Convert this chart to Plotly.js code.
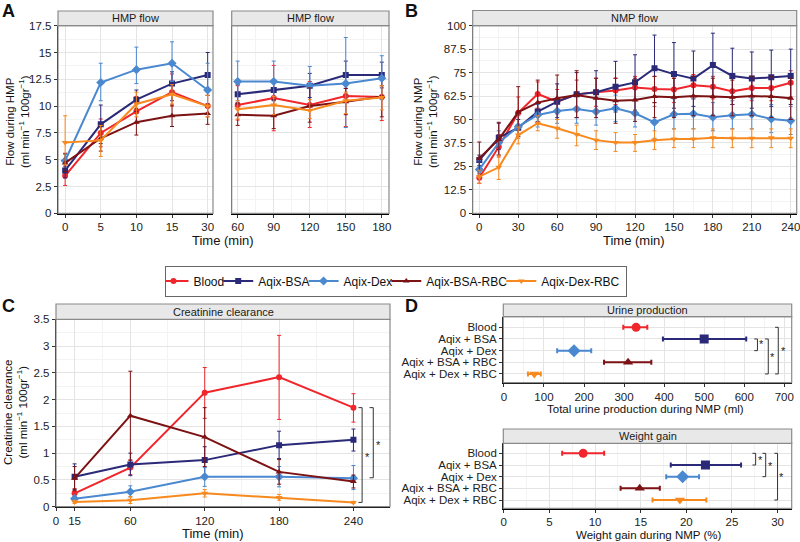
<!DOCTYPE html>
<html><head><meta charset="utf-8">
<script src="https://cdn.plot.ly/plotly-3.0.1.min.js"></script>
<style>html,body{margin:0;padding:0;background:#fff}#chart{width:800px;height:542px}</style>
</head><body><div id="chart"></div>
<script>
// ---------- shared ----------
const groups = ['Blood', 'Aqix-BSA', 'Aqix-Dex', 'Aqix-BSA-RBC', 'Aqix-Dex-RBC'];
const groupLabels = ['Blood', 'Aqix + BSA', 'Aqix + Dex', 'Aqix + BSA + RBC', 'Aqix + Dex + RBC'];
const colors = ['#f0262c', '#2a2a78', '#4a88d0', '#7c1214', '#f7891e'];
const symbols = ['circle', 'square', 'diamond', 'triangle-up', 'triangle-down'];

// ---------- Panel A: HMP flow, early (0-30 min) ----------
const hmpEarlyTimes = ['0', '5', '10', '15', '30'];
const hmpEarlyMean = [
  [3.5, 7.5, 9.5, 11.3, 10.0],
  [4.0, 8.3, 10.6, 12.1, 12.9],
  [4.9, 12.2, 13.4, 14.0, 11.5],
  [4.7, 7.0, 8.5, 9.1, 9.3],
  [6.6, 6.8, 10.2, 11.1, 10.0]
];
const hmpEarlyLo = [
  [2.6, 6.2, 8.4, 10.0, 9.0],
  [3.3, 6.5, 9.5, 10.5, 11.0],
  [4.3, 10.5, 12.1, 12.3, 10.0],
  [3.9, 5.8, 7.3, 8.1, 8.3],
  [4.5, 5.3, 9.0, 10.2, 9.0]
];
const hmpEarlyHi = [
  [4.4, 8.8, 10.9, 13.0, 11.0],
  [4.8, 10.1, 11.5, 13.2, 15.0],
  [5.5, 14.0, 15.5, 16.0, 14.0],
  [5.6, 8.2, 9.8, 10.1, 10.2],
  [9.1, 8.2, 11.3, 12.0, 11.0]
];

// ---------- Panel A: HMP flow, late (60-180 min) ----------
const hmpLateTimes = [60, 90, 120, 150, 180];
const hmpLateMean = [
  [10.1, 10.75, 10.1, 10.95, 10.85],
  [11.1, 11.5, 11.9, 12.9, 12.9],
  [12.3, 12.3, 11.9, 12.1, 12.6],
  [9.2, 9.1, 10.0, 10.4, 10.9],
  [9.7, 10.1, 9.6, 10.5, 10.8]
];
const hmpLateLo = [
  [8.7, 7.7, 8.0, 8.1, 8.65],
  [10.2, 10.5, 10.8, 11.65, 11.7],
  [10.5, 10.6, 10.0, 8.0, 10.6],
  [8.2, 7.9, 8.5, 9.2, 9.0],
  [8.8, 9.2, 8.85, 9.3, 9.65]
];
const hmpLateHi = [
  [11.9, 13.8, 12.3, 11.9, 13.1],
  [12.0, 12.4, 13.05, 14.2, 14.1],
  [14.2, 14.2, 13.7, 16.4, 14.7],
  [10.3, 10.6, 11.7, 11.65, 11.9],
  [10.5, 10.9, 10.6, 11.3, 11.9]
];

// ---------- Panel B: NMP flow ----------
const nmpTimes = [0, 15, 30, 45, 60, 75, 90, 105, 120, 135, 150, 165, 180, 195, 210, 225, 240];
const nmpMean = [
  [19, 35.5, 53.6, 63.6, 59.5, 63.4, 64.5, 65.4, 67.1, 66.3, 66, 68.2, 67.5, 65, 66.8, 66.8, 69.6],
  [28.4, 40.3, 45.6, 54.2, 59.5, 63.4, 64.5, 67.5, 69.8, 77.3, 74.2, 71.8, 79, 73.2, 71.8, 72.5, 73.2],
  [23.4, 37.7, 46.2, 52.4, 54.5, 55.6, 54.2, 56, 53.3, 48.5, 52.8, 53, 51.2, 52.2, 52.8, 50.3, 49.4],
  [29.3, 39.4, 54, 59, 61.3, 63, 61.3, 60, 60.4, 62.2, 61.8, 62.5, 62.2, 61.8, 62.5, 62.2, 61.3],
  [19.5, 24.5, 41.7, 48, 45.3, 42, 39, 37.7, 37.7, 39, 39.6, 39.6, 40.3, 40, 40, 40.3, 40]
];
const nmpLo = [
  [16, 30, 46, 56, 53, 56, 57, 58, 60, 59, 59, 61, 61, 58, 60, 60, 62],
  [25.5, 34, 41, 49, 51, 51, 55, 54, 55, 59, 56, 57, 62, 58, 56, 57, 58],
  [19, 31, 40, 46, 48, 48, 47, 49, 46, 40, 45, 45, 44, 45, 45, 43, 42],
  [21, 31, 41, 48, 50, 51, 51, 48, 49, 51, 51, 52, 52, 52, 52, 51, 50],
  [16, 18, 37, 44, 40, 36, 34, 33, 33, 34, 35, 35, 35, 35, 35, 35, 35]
];
const nmpHi = [
  [22, 42, 62, 70, 66, 71, 72, 72, 73, 73, 72, 74, 73, 72, 73, 73, 76],
  [31, 48, 50, 59, 69, 75, 76, 81, 84.5, 95, 91, 86.5, 96, 88, 86, 87, 87.5],
  [28, 44, 52, 58, 61, 63, 62, 63, 61, 57, 61, 61, 59, 60, 61, 58, 57],
  [38, 48.5, 67.5, 71, 73.7, 76, 72, 72, 72, 73, 72, 73, 72, 71, 73, 73, 72],
  [23, 31, 46, 52, 50, 47, 44, 43, 42, 44, 45, 45, 45, 45, 45, 45, 45]
];

// ---------- Panel C: Creatinine clearance ----------
const ccTimes = [15, 60, 120, 180, 240];
const ccMean = [
  [0.25, 0.73, 2.13, 2.42, 1.85],
  [0.56, 0.79, 0.87, 1.15, 1.25],
  [0.15, 0.28, 0.56, 0.56, 0.53],
  [0.53, 1.70, 1.30, 0.65, 0.47],
  [0.09, 0.12, 0.25, 0.17, 0.08]
];
const ccLo = [
  [0.18, 0.60, 1.65, 1.63, 1.58],
  [0.32, 0.58, 0.60, 0.90, 1.04],
  [0.10, 0.18, 0.38, 0.37, 0.32],
  [0.30, 0.87, 0.75, 0.42, 0.35],
  [0.06, 0.06, 0.18, 0.12, 0.06]
];
const ccHi = [
  [0.34, 0.87, 2.60, 3.20, 2.11],
  [0.80, 1.00, 1.12, 1.41, 1.45],
  [0.20, 0.39, 0.73, 0.75, 0.77],
  [0.75, 2.53, 1.85, 0.88, 0.59],
  [0.12, 0.19, 0.32, 0.23, 0.10]
];

// ---------- Panel D: Urine production & weight gain ----------
const urineMean = [330, 500, 175, 310, 76];
const urineLo = [298, 397, 133, 250, 60];
const urineHi = [358, 605, 218, 368, 92];
const weightMean = [8.7, 22.1, 19.6, 14.9, 19.3];
const weightLo = [6.4, 18.3, 17.8, 12.8, 16.3];
const weightHi = [11.0, 26.0, 21.4, 17.1, 22.2];

// ---------- build traces ----------
const traces = [];
function addSeries(xs, mean, lo, hi, xa, ya, legend) {
  for (let g = 0; g < groups.length; g++) {
    traces.push({
      type: 'scatter', mode: 'lines+markers', x: xs, y: mean[g],
      name: groups[g], legendgroup: groups[g], showlegend: legend,
      xaxis: xa, yaxis: ya,
      line: {color: colors[g], width: 2},
      marker: {color: colors[g], symbol: symbols[g], size: g === 2 ? 7 : 6},
      error_y: {type: 'data', symmetric: false,
        array: hi[g].map((v, i) => v - mean[g][i]),
        arrayminus: mean[g].map((v, i) => v - lo[g][i]),
        color: colors[g], thickness: 1, width: 2}
    });
  }
}
addSeries(hmpEarlyTimes, hmpEarlyMean, hmpEarlyLo, hmpEarlyHi, 'x', 'y', false);
addSeries(hmpLateTimes, hmpLateMean, hmpLateLo, hmpLateHi, 'x2', 'y2', false);
addSeries(nmpTimes, nmpMean, nmpLo, nmpHi, 'x3', 'y3', true);
addSeries(ccTimes, ccMean, ccLo, ccHi, 'x4', 'y4', false);

const catPos = groupLabels.map((_, i) => i);
function addDot(vals, lo, hi, xa, ya) {
  for (let g = 0; g < groups.length; g++) {
    traces.push({
      type: 'scatter', mode: 'markers', x: [vals[g]], y: [catPos[g]],
      name: groups[g], legendgroup: groups[g], showlegend: false,
      xaxis: xa, yaxis: ya,
      marker: {color: colors[g], symbol: symbols[g], size: g === 2 ? 10 : 9},
      error_x: {type: 'data', symmetric: false,
        array: [hi[g] - vals[g]], arrayminus: [vals[g] - lo[g]],
        color: colors[g], thickness: 2, width: 2.5}
    });
  }
}
addDot(urineMean, urineLo, urineHi, 'x5', 'y5');
addDot(weightMean, weightLo, weightHi, 'x6', 'y6');

// ---------- layout ----------
const W = 800, H = 542;
const px = v => v / W, py = v => 1 - v / H;
const FAM = 'Liberation Sans, Arial, sans-serif';
const tickFont = {family: FAM, size: 11.5, color: '#222'};
function ax(extra) {
  return Object.assign({
    showline: true, linecolor: '#000', linewidth: 1.2,
    ticks: 'outside', ticklen: 3, tickcolor: '#333', tickwidth: 1,
    tickfont: tickFont, showgrid: true, gridcolor: '#e4e4e4', gridwidth: 1,
    zeroline: false, fixedrange: true, ticklabeloverflow: 'allow'
  }, extra);
}
const minor = (o) => Object.assign({showgrid: true, gridcolor: '#f3f3f3', ticklen: 0}, o);

const yA = [py(213.3), py(25.7)];
const layout = {
  width: W, height: H, margin: {l: 0, r: 0, t: 0, b: 0},
  paper_bgcolor: '#fff', plot_bgcolor: '#fff',
  font: {family: FAM, color: '#111'},
  showlegend: true,
  legend: {orientation: 'h', x: px(395.5), xanchor: 'center', y: py(265.5), yanchor: 'top',
    bordercolor: '#666', borderwidth: 1, font: {family: FAM, size: 12, color: '#111'},
    itemwidth: 30, indentation: -11, tracegroupgap: 0, bgcolor: '#fff'},
  xaxis: ax({domain: [px(58), px(213)], type: 'category', range: [-0.2, 4.15], anchor: 'y'}),
  yaxis: ax({domain: yA, range: [0, 17.5], dtick: 2.5, anchor: 'x', minor: minor({dtick: 1.25})}),
  xaxis2: ax({domain: [px(231.7), px(389)], range: [55, 186], tickvals: hmpLateTimes, anchor: 'y2',
    minor: minor({tickvals: [75, 105, 135, 165]})}),
  yaxis2: ax({domain: yA, range: [0, 17.5], dtick: 2.5, anchor: 'x2', showticklabels: false, ticks: '',
    minor: minor({dtick: 1.25})}),
  xaxis3: ax({domain: [px(472.7), px(796.7)], range: [-5.1, 244.6], dtick: 30, anchor: 'y3',
    minor: minor({dtick: 15})}),
  yaxis3: ax({domain: yA, range: [0, 100], dtick: 12.5, anchor: 'x3', minor: minor({dtick: 6.25})}),
  xaxis4: ax({domain: [px(56), px(390)], range: [0, 269.5], tickvals: [0, 15, 60, 120, 180, 240], anchor: 'y4',
    minor: minor({tickvals: [37.5, 90, 150, 210]})}),
  yaxis4: ax({domain: [py(506.7), py(319.3)], range: [0, 3.5], dtick: 0.5, anchor: 'x4',
    minor: minor({dtick: 0.25})}),
  xaxis5: ax({domain: [px(503.3), px(791.7)], range: [-1.5, 718.5], dtick: 100, anchor: 'y5',
    minor: minor({dtick: 50})}),
  yaxis5: ax({domain: [py(382.7), py(316.7)], range: [4.75, -0.91], tickvals: catPos, ticktext: groupLabels,
    anchor: 'x5'}),
  xaxis6: ax({domain: [px(503.3), px(791.7)], range: [-0.05, 31.55], dtick: 5, anchor: 'y6',
    minor: minor({dtick: 2.5})}),
  yaxis6: ax({domain: [py(508.3), py(443.3)], range: [4.71, -0.86], tickvals: catPos, ticktext: groupLabels,
    anchor: 'x6'}),
  shapes: [], annotations: []
};

// panel borders and strips
const panels = [
  {x0: 58, x1: 213, y0: 25.7, y1: 213.3, s0: 11, label: 'HMP flow'},
  {x0: 231.7, x1: 389, y0: 25.7, y1: 213.3, s0: 11, label: 'HMP flow'},
  {x0: 472.7, x1: 796.7, y0: 25.7, y1: 213.3, s0: 10.5, label: 'NMP flow'},
  {x0: 56, x1: 390, y0: 319.3, y1: 506.7, s0: 304, label: 'Creatinine clearance'},
  {x0: 503.3, x1: 791.7, y0: 316.7, y1: 382.7, s0: 304, label: 'Urine production'},
  {x0: 503.3, x1: 791.7, y0: 443.3, y1: 508.3, s0: 429, label: 'Weight gain'}
];
panels.forEach(p => {
  layout.shapes.push({type: 'rect', xref: 'paper', yref: 'paper', x0: px(p.x0), x1: px(p.x1),
    y0: py(p.y1), y1: py(p.y0), line: {color: '#8a8a8a', width: 1.2}, fillcolor: 'rgba(0,0,0,0)', layer: 'above'});
  layout.shapes.push({type: 'rect', xref: 'paper', yref: 'paper', x0: px(p.x0), x1: px(p.x1),
    y0: py(p.y0), y1: py(p.s0), line: {color: '#8a8a8a', width: 1.2}, fillcolor: '#e8e8e8', layer: 'above'});
  layout.annotations.push({xref: 'paper', yref: 'paper', x: px((p.x0 + p.x1) / 2), y: py((p.s0 + p.y0) / 2),
    text: p.label, showarrow: false, xanchor: 'center', yanchor: 'middle', font: {size: 11, color: '#1a1a1a'}});
});

// axis titles
function ann(x, y, text, angle, size) {
  layout.annotations.push({xref: 'paper', yref: 'paper', x: px(x), y: py(y), text: text, showarrow: false,
    xanchor: 'center', yanchor: 'middle', textangle: angle || 0,
    font: {size: size || 13, color: '#111'}});
}
ann(223, 241, 'Time (min)');
ann(634, 241, 'Time (min)');
ann(213, 533, 'Time (min)');
ann(645, 409, 'Total urine production during NMP (ml)', 0, 11.5);
ann(648, 535, 'Weight gain during NMP (%)', 0, 11.5);
ann(17, 122, 'Flow during HMP<br>(ml min<sup>−1</sup> 100gr<sup>−1</sup>)', -90, 11.5);
ann(425, 122, 'Flow during NMP<br>(ml min<sup>−1</sup> 100gr<sup>−1</sup>)', -90, 11.5);
ann(15, 413, 'Creatinine clearance<br>(ml min<sup>−1</sup> 100gr<sup>−1</sup>)', -90, 11.5);
// panel letters
ann(8, 11, '<b>A</b>', 0, 18);
ann(411, 11, '<b>B</b>', 0, 18);
ann(8, 306, '<b>C</b>', 0, 18);
ann(411, 306, '<b>D</b>', 0, 18);

// significance brackets
function bracket(xa, ya, x, yTop, yBot, tick) {
  layout.shapes.push({type: 'path', xref: xa, yref: ya,
    path: `M${x - tick},${yTop} L${x},${yTop} L${x},${yBot} L${x - tick},${yBot}`,
    line: {color: '#333', width: 1}});
}
function star(xa, ya, x, y) {
  layout.annotations.push({xref: xa, yref: ya, x: x, y: y, text: '*', showarrow: false,
    xanchor: 'center', yanchor: 'middle', font: {size: 11, color: '#222'}});
}
bracket('x4', 'y4', 247, 1.85, 0.08, 3);
star('x4', 'y4', 251.5, 0.92);
bracket('x4', 'y4', 256, 1.85, 0.54, 3);
star('x4', 'y4', 260.5, 1.15);
bracket('x5', 'y5', 633, 1, 2, 8);
star('x5', 'y5', 643, 1.4);
bracket('x5', 'y5', 660, 1, 4, 8);
star('x5', 'y5', 670, 2.55);
bracket('x5', 'y5', 685, 0, 4, 8);
star('x5', 'y5', 697, 2.05);
bracket('x6', 'y6', 27.6, 0, 1, 0.35);
star('x6', 'y6', 28.1, 0.55);
bracket('x6', 'y6', 28.7, 0, 2, 0.35);
star('x6', 'y6', 29.2, 1.05);
bracket('x6', 'y6', 30.0, 0, 4, 0.35);
star('x6', 'y6', 30.45, 2.05);

Plotly.newPlot('chart', traces, layout, {staticPlot: true, displayModeBar: false});
</script>
</body></html>
